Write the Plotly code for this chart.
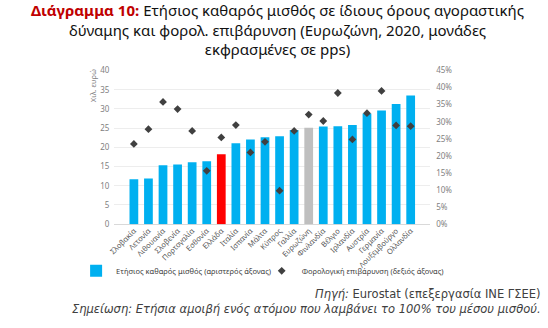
import plotly.graph_objects as go

categories = ["Σλοβακία", "Λετονία", "Λιθουανία", "Σλοβενία", "Πορτογαλία", "Εσθονία",
              "Ελλάδα", "Ιταλία", "Ισπανία", "Μάλτα", "Κύπρος", "Γαλλία", "Ευρωζώνη",
              "Φινλανδία", "Βέλγιο", "Ιρλανδία", "Αυστρία", "Γερμανία", "Λουξεμβούργο", "Ολλανδία"]
net_salary = [11.7, 11.9, 15.35, 15.5, 16.1, 16.4, 18.2, 21.05, 22.05, 22.6, 22.9, 24.5, 25.1,
              25.4, 25.5, 25.8, 28.8, 29.6, 31.3, 33.5]
tax_burden = [23.5, 27.8, 35.8, 33.7, 27.3, 15.6, 25.4, 29.0, 21.0, 24.1, 9.8, 27.3, 32.1,
              30.2, 38.4, 24.8, 32.5, 39.0, 28.9, 28.7]
left_ticks = [0, 5, 10, 15, 20, 25, 30, 35, 40]
right_ticks = [0, 5, 10, 15, 20, 25, 30, 35, 40, 45]

BLUE = "#00B0F0"
colors = []
for c in categories:
    if c == "Ελλάδα":
        colors.append("#FF0000")
    elif c == "Ευρωζώνη":
        colors.append("#BFBFBF")
    else:
        colors.append(BLUE)

FONT = "Noto Sans"
GREY = "#7F7F7F"

fig = go.Figure()
fig.add_trace(go.Bar(
    x=categories, y=net_salary, marker=dict(color=colors, line=dict(width=0)),
    name="Ετήσιος καθαρός μισθός (αριστερός άξονας)", yaxis="y", legend="legend",
))
fig.add_trace(go.Scatter(
    x=categories, y=tax_burden, mode="markers", yaxis="y2", legend="legend2",
    marker=dict(symbol="diamond", size=6, color="#404040"),
    name="Φορολογική επιβάρυνση (δεξιός άξονας)",
))

leg_common = dict(orientation="h", y=1 - 274 / 328, xanchor="left", yanchor="middle",
                  font=dict(size=7.5, color="#404040", family=FONT),
                  bgcolor="rgba(0,0,0,0)", itemwidth=30)

fig.update_layout(
    width=548, height=328,
    margin=dict(l=0, r=0, t=0, b=0),
    paper_bgcolor="white", plot_bgcolor="white",
    font=dict(family=FONT, color=GREY, size=8),
    bargap=0.4,
    showlegend=True,
    legend=dict(x=70 / 548, **leg_common),
    legend2=dict(x=258 / 548, **leg_common),
    xaxis=dict(domain=[0.1984, 0.7823], tickangle=-45, tickfont=dict(size=7.5, color="#595959"),
               showgrid=False, showline=False, ticks="", categoryorder="array",
               categoryarray=categories),
    yaxis=dict(domain=[0.3119, 0.7966], range=[0, 40], tickvals=left_ticks,
               showgrid=True, gridcolor="#EDEDED", gridwidth=1, zeroline=True,
               zerolinecolor="#D9D9D9", zerolinewidth=1, ticklabelstandoff=4,
               tickfont=dict(size=8, color=GREY), ticks=""),
    yaxis2=dict(overlaying="y", side="right", range=[0, 45], tickvals=right_ticks,
                ticktext=[f"{v}%" for v in right_ticks], showgrid=False, zeroline=False,
                ticklabelstandoff=5, tickfont=dict(size=8, color=GREY), ticks=""),
)

fig.add_annotation(
    x=87 / 548, y=1 - 82 / 328, xref="paper", yref="paper", xanchor="center", yanchor="middle",
    showarrow=False, text="Χιλ. ευρώ", textangle=-90,
    font=dict(family=FONT, size=7.5, color=GREY),
)
fig.add_annotation(
    x=0.5, y=1.025, xref="paper", yref="paper", xanchor="center", yanchor="top",
    showarrow=False, align="center",
    text=("<b><span style='color:#C00000'>Διάγραμμα 10:</span></b> Ετήσιος καθαρός μισθός σε ίδιους όρους αγοραστικής<br>"
          "δύναμης και φορολ. επιβάρυνση (Ευρωζώνη, 2020, μονάδες<br>"
          "εκφρασμένες σε pps)"),
    font=dict(family=FONT, size=15, color="#111111"),
)
fig.add_annotation(
    x=0.99, y=1 - 298 / 328, xref="paper", yref="paper", xanchor="right", yanchor="middle",
    showarrow=False, text="<i>Πηγή:</i> Eurostat (επεξεργασία ΙΝΕ ΓΣΕΕ)",
    font=dict(family="DejaVu Sans", size=11.5, color="#404040"),
)
fig.add_annotation(
    x=0.99, y=1 - 314 / 328, xref="paper", yref="paper", xanchor="right", yanchor="middle",
    showarrow=False, text="<i>Σημείωση: Ετήσια αμοιβή ενός ατόμου που λαμβάνει το 100% του μέσου μισθού.</i>",
    font=dict(family="DejaVu Sans", size=11.5, color="#404040"),
)

fig.write_html("out.html")
